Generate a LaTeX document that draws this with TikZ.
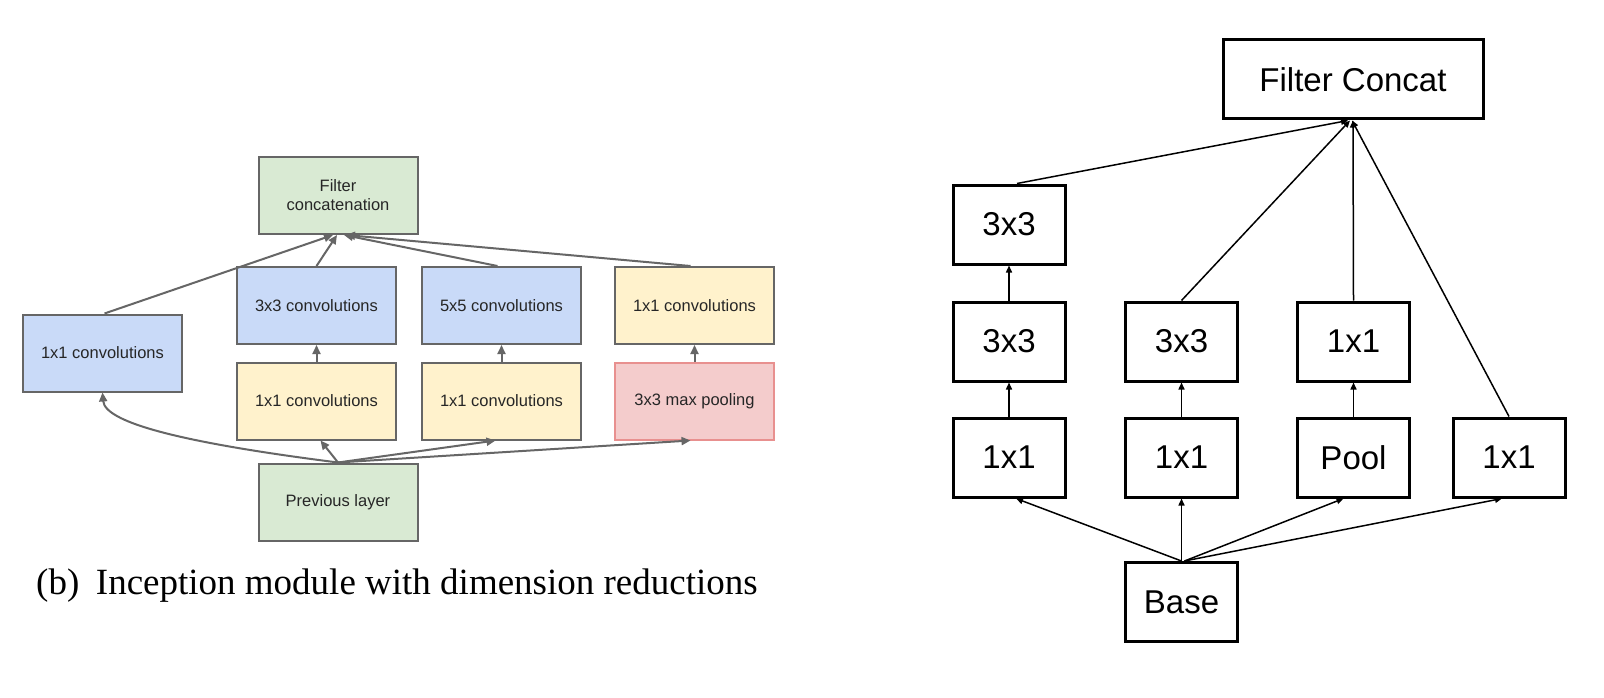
\documentclass[tikz,border=0pt]{standalone}
\usepackage{fontspec}
\setmainfont{Liberation Sans}
\newfontfamily\capfont{Liberation Serif}
\usetikzlibrary{arrows.meta}
\definecolor{gblue}{HTML}{C9DAF8}
\definecolor{gyellow}{HTML}{FFF2CC}
\definecolor{ggreen}{HTML}{D9EAD3}
\definecolor{gred}{HTML}{F4CCCC}
\definecolor{gredline}{HTML}{E8908F}
\definecolor{gline}{HTML}{666666}
\begin{document}
\begin{tikzpicture}[x=1pt,y=-1pt,
 lbox/.style={draw=gline, line width=2pt, minimum width=159pt, minimum height=77pt, inner sep=0pt, text=black!85, font=\fontsize{16.5}{19}\selectfont, align=center},
 rbox/.style={draw=black, line width=3pt, minimum width=112pt, minimum height=79pt, inner sep=0pt, font=\fontsize{33}{36}\selectfont},
 larr/.style={draw=gline, line width=2pt, -{Triangle[length=9pt,width=8pt]}},
 rarr/.style={draw=black, line width=1.5pt, -{Triangle[length=7pt,width=6pt]}},
]
\useasboundingbox[fill=white] (0,0) rectangle (1604,698);
% ---- left diagram
\node[lbox, fill=ggreen] (fc) at (338,195.5) {Filter\\concatenation};
\node[lbox, fill=gblue] (b1) at (102.5,353) {1x1 convolutions};
\node[lbox, fill=gblue] (c3) at (316.5,305.5) {3x3 convolutions};
\node[lbox, fill=gyellow] (r3) at (316.5,401) {1x1 convolutions};
\node[lbox, fill=ggreen] (pl) at (338,502) {Previous layer};
\node[lbox, fill=gblue] (c5) at (501.5,305.5) {5x5 convolutions};
\node[lbox, fill=gyellow] (r5) at (501.5,401) {1x1 convolutions};
\node[lbox, fill=gyellow] (pp) at (694.5,305.5) {1x1 convolutions};
\node[lbox, fill=gred, draw=gredline] (mp) at (694.5,401) {3x3 max pooling};
\draw[larr] ([xshift=2]b1.north) -- ([xshift=-5]fc.south);
\draw[larr] (c3.north) -- ([xshift=-1]fc.south);
\draw[larr] ([xshift=-4]c5.north) -- ([xshift=6]fc.south);
\draw[larr] ([xshift=-4]pp.north) -- ([xshift=8]fc.south);
\draw[larr] (r3.north) -- (c3.south);
\draw[larr] (r5.north) -- (c5.south);
\draw[larr] (mp.north) -- (pp.south);
\draw[larr] (pl.north) .. controls (200,445) and (105,425) .. (b1.south);
\draw[larr] (pl.north) -- ([xshift=4]r3.south);
\draw[larr] (pl.north) -- ([xshift=-6]r5.south);
\draw[larr] (pl.north) -- ([xshift=-4]mp.south);
\node[anchor=base west, inner sep=0pt, font=\capfont\fontsize{37}{40}\selectfont] (cap) at (36,594) {(b)\hspace{0.45em}Inception module with dimension reductions};
% ---- right diagram
\node[rbox, minimum width=260pt] (FC) at (1353,79.5) {Filter Concat};
\node[rbox] (a3) at (1009,224.5) {3x3};
\node[rbox] (a2) at (1009,341.5) {3x3};
\node[rbox] (a1) at (1009,457.5) {1x1};
\node[rbox] (b2) at (1181.5,341.5) {3x3};
\node[rbox] (bb1) at (1181.5,457.5) {1x1};
\node[rbox] (c2) at (1353.5,341.5) {1x1};
\node[rbox] (c1) at (1353.5,457.5) {Pool};
\node[rbox] (d1) at (1509,457.5) {1x1};
\node[rbox] (base) at (1181.5,602) {Base};
\draw[rarr] (a1.north) -- (a2.south);
\draw[rarr] (a2.north) -- (a3.south);
\draw[rarr] (bb1.north) -- (b2.south);
\draw[rarr] (c1.north) -- (c2.south);
\draw[rarr] ([xshift=8]a3.north) -- ([xshift=-5]FC.south);
\draw[rarr] (b2.north) -- ([xshift=-3]FC.south);
\draw[rarr] (c2.north) -- (FC.south);
\draw[rarr] (d1.north) -- ([xshift=-1]FC.south);
\draw[rarr] (base.north) -- ([xshift=7]a1.south);
\draw[rarr] (base.north) -- (bb1.south);
\draw[rarr] ([xshift=3]base.north) -- ([xshift=-10]c1.south);
\draw[rarr] ([xshift=3]base.north) -- ([xshift=-7]d1.south);
\end{tikzpicture}
\end{document}
